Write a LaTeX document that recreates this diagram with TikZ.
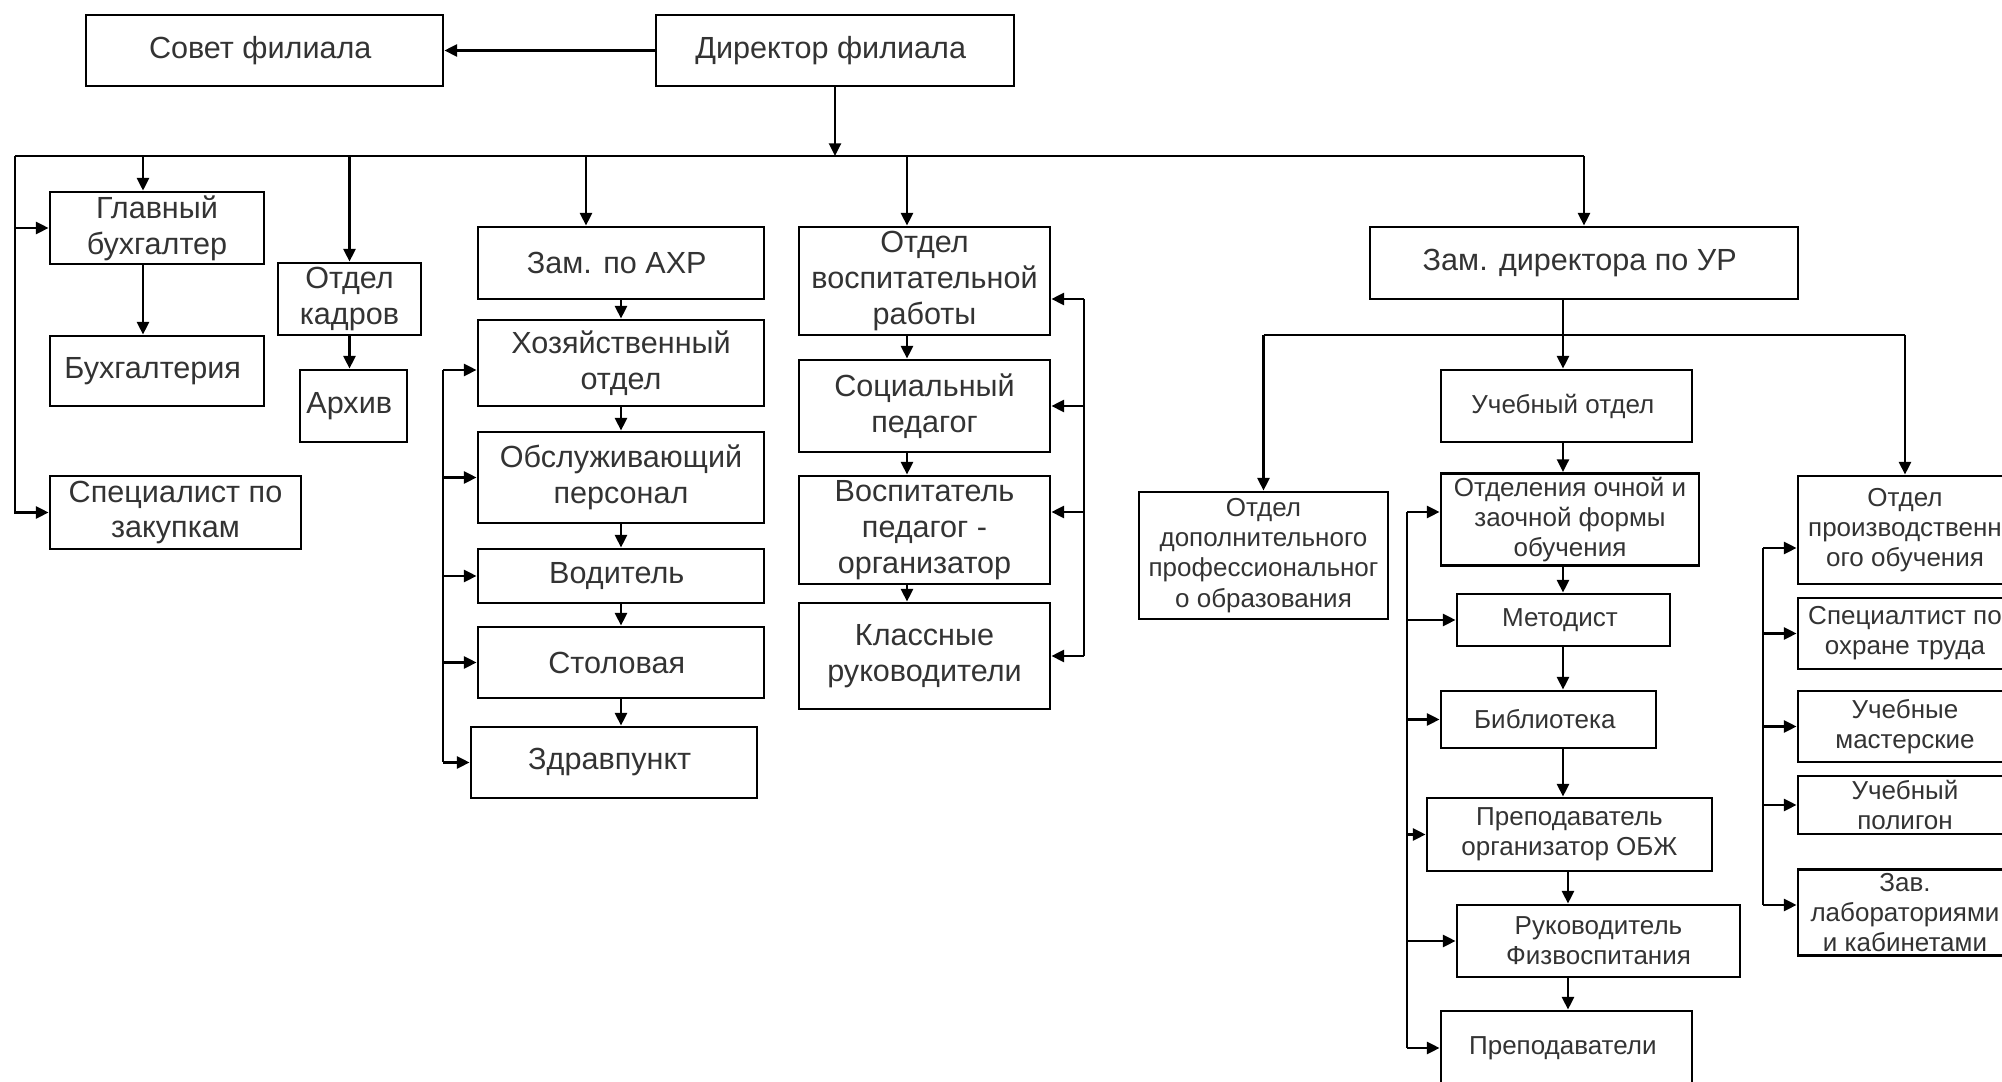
\documentclass[tikz,border=0pt]{standalone}
\usepackage{fontspec}
\setmainfont{Liberation Sans}
\usepackage{tikz}
\usetikzlibrary{arrows.meta}
\definecolor{gray20}{gray}{0.2}

\begin{document}
\begin{tikzpicture}[
  box/.style={draw, line width=0.8, inner sep=1pt, align=center, text=gray20,
    font=\fontsize{8.7}{10.2}\selectfont},
  small/.style={font=\fontsize{7.4}{8.6}\selectfont},
  link/.style={line width=0.7, -{Triangle[length=3.6pt, width=3.4pt]}},
  wire/.style={line width=0.7}
]

  \useasboundingbox (0, 0) rectangle (20.02, 10.82);
  \clip (0, 0) rectangle (20.02, 10.82);

  % top
  \node[box, minimum width=3.57cm, minimum height=0.71cm] (sovet) at (2.645, 10.315) { Совет филиала };
  \node[box, minimum width=3.58cm, minimum height=0.71cm] (dir) at (8.35, 10.315) { Директор филиала };

  % left group
  \node[box, minimum width=2.14cm, minimum height=0.70cm] (glbuh) at (1.57, 8.54) { Главный\\бухгалтер };
  \node[box, minimum width=2.14cm, minimum height=0.70cm] (buh) at (1.57, 7.11) { Бухгалтерия };
  \node[box, minimum width=2.51cm, minimum height=0.73cm] (zakup) at (1.755, 5.695) { Специалист по\\закупкам };
  \node[box, minimum width=1.43cm, minimum height=0.72cm] (kadry) at (3.495, 7.83) { Отдел\\кадров };
  \node[box, minimum width=1.07cm, minimum height=0.72cm] (arhiv) at (3.535, 6.76) { Архив };

  % AXR
  \node[box, minimum width=2.86cm, minimum height=0.72cm] (ahr) at (6.21, 8.19) { Зам. по АХР };
  \node[box, minimum width=2.86cm, minimum height=0.86cm] (hoz) at (6.21, 7.19) { Хозяйственный\\отдел };
  \node[box, minimum width=2.86cm, minimum height=0.91cm] (obsl) at (6.21, 6.045) { Обслуживающий\\персонал };
  \node[box, minimum width=2.86cm, minimum height=0.54cm] (vodit) at (6.21, 5.06) { Водитель };
  \node[box, minimum width=2.86cm, minimum height=0.71cm] (stol) at (6.21, 4.195) { Столовая };
  \node[box, minimum width=2.86cm, minimum height=0.71cm] (zdrav) at (6.14, 3.195) { Здравпункт };

  % vospitanie
  \node[box, minimum width=2.51cm, minimum height=1.08cm] (vosp) at (9.245, 8.01) { Отдел\\воспитательной\\работы };
  \node[box, minimum width=2.51cm, minimum height=0.92cm] (socped) at (9.245, 6.76) { Социальный\\педагог };
  \node[box, minimum width=2.51cm, minimum height=1.08cm] (pedorg) at (9.245, 5.52) { Воспитатель\\педагог -\\организатор };
  \node[box, minimum width=2.51cm, minimum height=1.06cm] (klass) at (9.245, 4.26) { Классные\\руководители };

  % UR
  \node[box, minimum width=4.28cm, minimum height=0.72cm] (zamur) at (15.84, 8.19) { Зам. директора по УР };
  \node[box, small, minimum width=2.51cm, minimum height=0.72cm] (ucheb) at (15.665, 6.76) { Учебный отдел };
  \node[box, small, minimum width=2.49cm, minimum height=1.27cm] (dopobr) at (12.635, 5.265) { Отдел\\дополнительного\\профессиональног\\о образования };
  \node[box, small, minimum width=2.58cm, minimum height=0.87cm] (otdel) at (15.70, 5.625) { Отделения очной и\\заочной формы\\обучения };
  \node[box, small, minimum width=2.13cm, minimum height=0.52cm] (metod) at (15.635, 4.62) { Методист };
  \node[box, small, minimum width=2.15cm, minimum height=0.57cm] (biblio) at (15.485, 3.625) { Библиотека };
  \node[box, small, minimum width=2.85cm, minimum height=0.73cm] (obzh) at (15.695, 2.475) { Преподаватель\\организатор ОБЖ };
  \node[box, small, minimum width=2.83cm, minimum height=0.72cm] (fizv) at (15.985, 1.41) { Руководитель\\Физвоспитания };
  \node[box, small, minimum width=2.51cm, minimum height=0.74cm] (prep) at (15.665, 0.34) { Преподаватели };

  \node[box, small, minimum width=2.14cm, minimum height=1.08cm] (prodobr) at (19.05, 5.52) { Отдел\\производственн\\ого обучения };
  \node[box, small, minimum width=2.14cm, minimum height=0.71cm] (ohrana) at (19.05, 4.485) { Специалтист по\\охране труда };
  \node[box, small, minimum width=2.14cm, minimum height=0.71cm] (master) at (19.05, 3.555) { Учебные\\мастерские };
  \node[box, small, minimum width=2.14cm, minimum height=0.58cm] (poligon) at (19.05, 2.77) { Учебный\\полигон };
  \node[box, small, minimum width=2.14cm, minimum height=0.85cm] (zavlab) at (19.05, 1.695) { Зав.\\лабораториями\\и кабинетами };

  \coordinate (busL) at (0.15, 9.26);
  \coordinate (busR) at (15.84, 9.26);
  \coordinate (ahrbus) at (4.43, 7.12);
  \coordinate (vospbus) at (10.84, 7.83);
  \coordinate (urbus) at (15.63, 7.47);
  \coordinate (ochbus) at (14.07, 5.70);
  \coordinate (prodbus) at (17.63, 5.34);
  \coordinate (chainA) at (15.63, 0);
  \coordinate (chainB) at (15.68, 0);

  \draw[link] (dir) -- (sovet);
  \draw[link] (dir) -- (dir |- busL);
  \draw[wire] (busL) -- (busR);
  \draw[link] (busR) -- (zamur);

  \draw[link] (busL) |- (zakup);
  \draw[link] (busL |- glbuh) -- (glbuh);
  \draw[link] ([xshift=-1.4mm]glbuh.north |- busL) -- ([xshift=-1.4mm]glbuh.north);
  \draw[link] ([xshift=-1.4mm]glbuh.south) -- ([xshift=-1.4mm]buh.north);
  \draw[link] (kadry.north |- busL) -- (kadry);
  \draw[link] (kadry) -- (kadry.south |- arhiv.north);

  \draw[link] ([xshift=-3.5mm]ahr.north |- busL) -- ([xshift=-3.5mm]ahr.north);
  \foreach \a/\b in {ahr/hoz, hoz/obsl, obsl/vodit, vodit/stol, stol/zdrav}
    \draw[link] (\a) -- (\a.south |- \b.north);
  \draw[wire] (ahrbus) -- (ahrbus |- zdrav);
  \draw[link] (ahrbus) -- (ahrbus -| hoz.west);
  \foreach \n in {obsl, vodit, stol, zdrav}
    \draw[link] (ahrbus |- \n) -- (\n);

  \draw[link] ([xshift=-1.75mm]vosp.north |- busL) -- ([xshift=-1.75mm]vosp.north);
  \foreach \a/\b in {vosp/socped, socped/pedorg, pedorg/klass}
    \draw[link] ([xshift=-1.75mm]\a.south) -- ([xshift=-1.75mm]\a.south |- \b.north);
  \draw[wire] (vospbus) -- (vospbus |- klass);
  \draw[link] (vospbus) -- (vospbus -| vosp.east);
  \draw[link] (vospbus |- socped) -- (socped);
  \draw[link] ([yshift=1.8mm]vospbus |- pedorg) -- ([yshift=1.8mm]pedorg.east);
  \draw[link] (vospbus |- klass) -- (klass);

  \draw[wire] (zamur.south -| urbus) -- (urbus);
  \draw[wire] (dopobr.north |- urbus) -- (prodobr.north |- urbus);
  \draw[link] (dopobr.north |- urbus) -- (dopobr);
  \draw[link] (urbus) -- (urbus |- ucheb.north);
  \draw[link] (prodobr.north |- urbus) -- (prodobr);

  \foreach \a/\b/\c in {ucheb/otdel/chainA, otdel/metod/chainA, metod/biblio/chainA,
                        biblio/obzh/chainA, obzh/fizv/chainB, fizv/prep/chainB}
    \draw[link] (\a.south -| \c) -- (\b.north -| \c);
  \draw[wire] (ochbus) -- (ochbus |- prep);
  \draw[link] (ochbus) -- (ochbus -| otdel.west);
  \foreach \n in {metod, biblio, obzh, fizv, prep}
    \draw[link] (ochbus |- \n) -- (\n);

  \draw[wire] (prodbus) -- ([yshift=0.75mm]prodbus |- zavlab);
  \draw[link] (prodbus) -- (prodbus -| prodobr.west);
  \foreach \n in {ohrana, master, poligon}
    \draw[link] (prodbus |- \n) -- (\n);
  \draw[link] ([yshift=0.75mm]prodbus |- zavlab) -- ([yshift=0.75mm]zavlab.west);

\end{tikzpicture}
\end{document}
